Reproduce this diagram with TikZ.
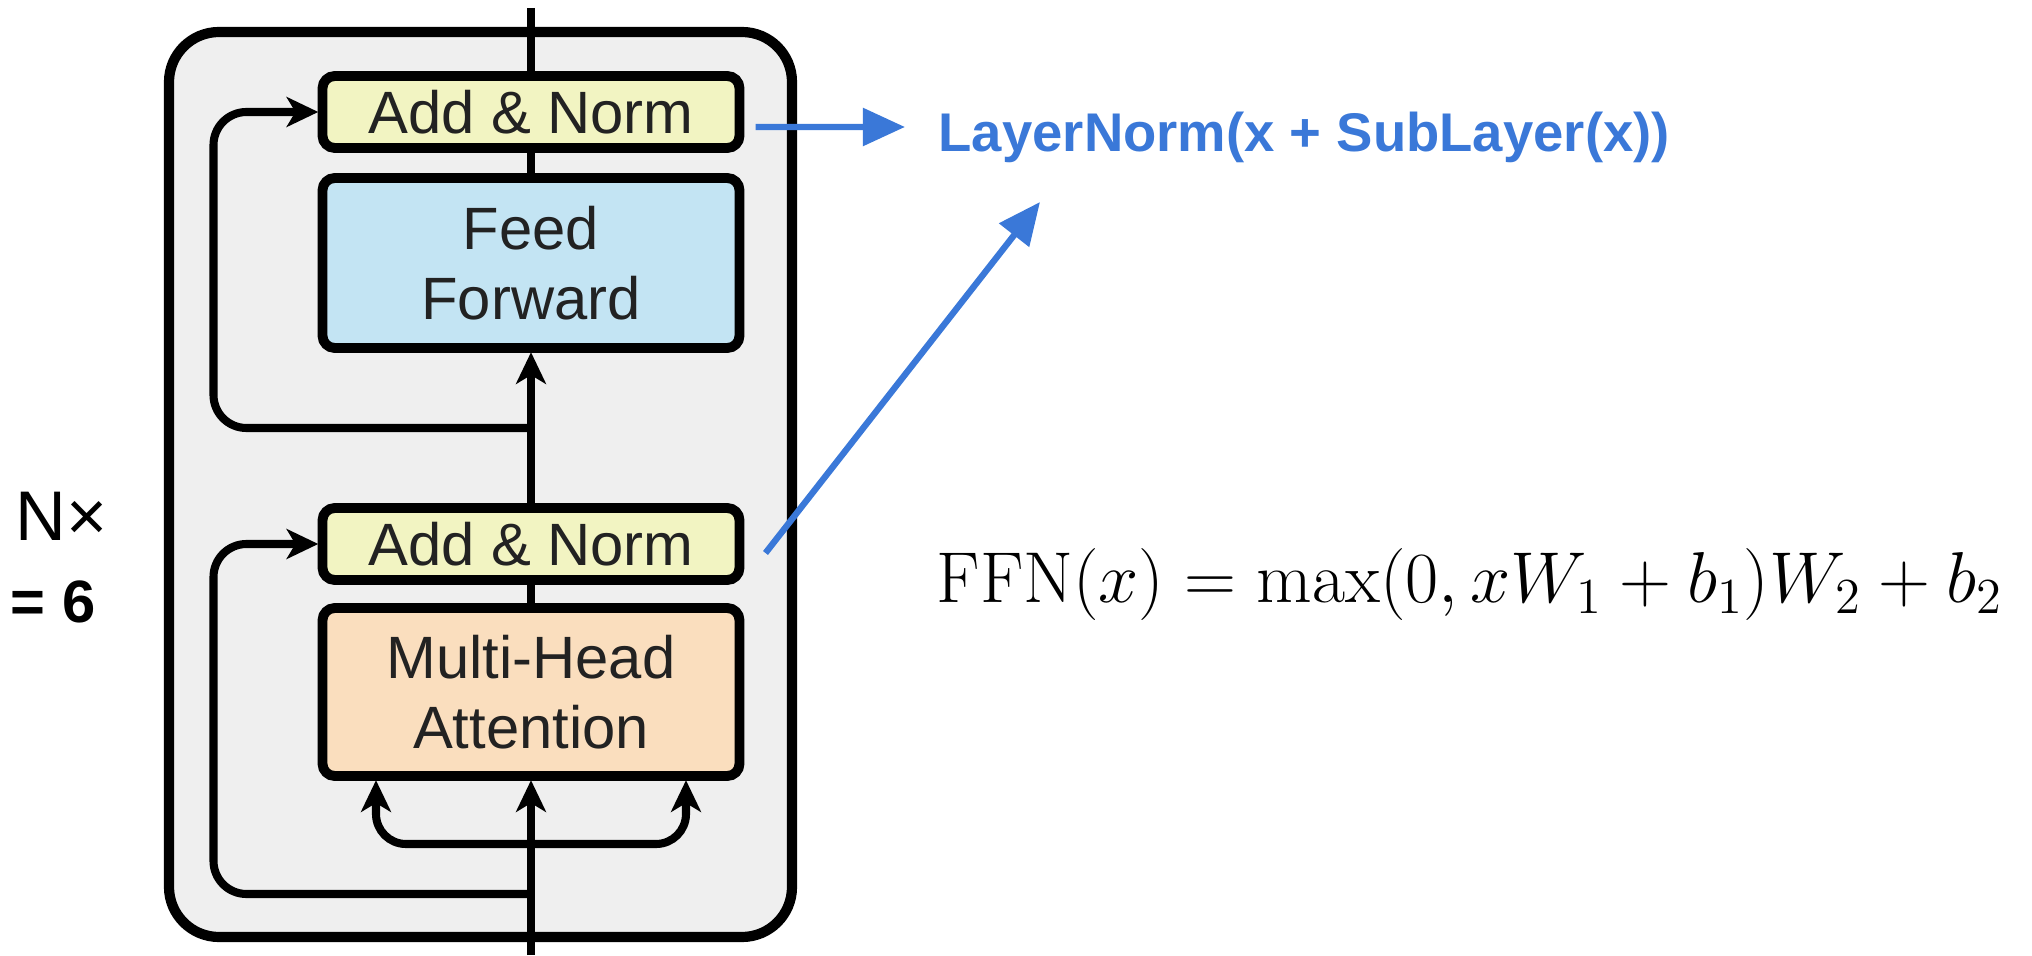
\RequirePackage{fix-cm}
\documentclass[tikz,border=0pt]{standalone}
\usepackage{amsmath}
\usepackage{fontspec}
\usepackage{tikz}
\usetikzlibrary{arrows.meta, positioning, calc}
\newfontfamily\helv{Liberation Sans}
\definecolor{normfill}{RGB}{242,244,194}
\definecolor{fffill}{RGB}{195,228,243}
\definecolor{attnfill}{RGB}{250,222,190}
\definecolor{layerfill}{RGB}{239,239,239}
\definecolor{boxtext}{RGB}{34,34,34}
\definecolor{sublayerblue}{RGB}{58,120,216}

\begin{document}
\begin{tikzpicture}[
			>={Stealth[length=9pt, width=8.5pt, inset=2.5pt]},
			block/.style={draw, line width=2.8pt, rounded corners=3.5pt, outer sep=0pt, minimum width=4.17cm, align=center, text=boxtext, font=\helv\fontsize{17}{20}\selectfont},
			norm/.style={block, fill=normfill, minimum height=0.72cm},
			ff/.style={block, fill=fffill, minimum height=1.70cm},
			attn/.style={block, fill=attnfill, minimum height=1.68cm},
			layerbox/.style={draw, line width=2.9pt, rounded corners=0.5cm, fill=layerfill, minimum width=6.23cm, minimum height=9.05cm},
			flow/.style={line width=2.3pt, shorten >=1.2pt},
			resid/.style={flow, rounded corners=0.33cm},
			bluearr/.style={draw=sublayerblue, line width=1.8pt, -{Triangle[length=12pt, width=10.5pt]}}
			]
			\useasboundingbox (0,0) rectangle (20.32,9.55);
			
			% --- Blok warstwy enkodera ---
			\node[layerbox] (layer) at (4.805,4.705) {};
			\node[norm] (topnorm) at (5.31,8.43) {Add \& Norm};
			\node[ff, below=0.30cm of topnorm] (ffn) {Feed\\Forward};
			\node[norm, below=1.60cm of ffn] (lownorm) {Add \& Norm};
			\node[attn, below=0.28cm of lownorm] (mha) {Multi-Head\\Attention};
			
			% --- Punkty pomocnicze ---
			\coordinate (top) at (5.31,9.47);
			\coordinate (bottom) at (5.31,0);
			\coordinate (res1) at ($(lownorm.north)!0.5!(ffn.south)$);
			\coordinate (res2) at ([yshift=-1.18cm]mha.south);
			\coordinate (fork) at ([yshift=-0.68cm]mha.south);
			
			% --- Ścieżka główna ---
			\draw[flow] (top) -- (topnorm.north);
			\draw[flow] (topnorm.south) -- (ffn.north);
			\draw[flow] (lownorm.south) -- (mha.north);
			\draw[flow, ->] (lownorm.north) -- (ffn.south);
			\draw[flow, ->] (bottom) -- (mha.south);
			
			% --- Połączenia resztkowe i wejścia Q, K, V ---
			\draw[resid, ->] (res1) -| ([xshift=-1.09cm]topnorm.west) -- (topnorm.west);
			\draw[resid, ->] (res2) -| ([xshift=-1.09cm]lownorm.west) -- (lownorm.west);
			\draw[resid, rounded corners=0.3cm, ->] (fork) -| ([xshift=-1.55cm]mha.south);
			\draw[resid, rounded corners=0.3cm, ->] (fork) -| ([xshift=1.55cm]mha.south);
			
			% --- Opisy ---
			\node[anchor=base west, inner sep=0pt, font=\helv\fontsize{20}{24}\selectfont] (nx) at (0.15,4.15) {N×};
			\node[anchor=base west, inner sep=0pt, font=\helv\bfseries\fontsize{17}{20}\selectfont] (nsix) at (0.10,3.32) {= 6};
			\node[anchor=base west, inner sep=0pt, text=sublayerblue, font=\helv\bfseries\fontsize{15.5}{18}\selectfont] (lnormtxt) at (9.38,8.03) {LayerNorm(x + SubLayer(x))};
			\node[anchor=base west, inner sep=0pt, font=\fontsize{20.5}{24}\selectfont] (ffnformula) at (9.36,3.52) {$\mathrm{FFN}(x)=\max(0,xW_1+b_1)W_2+b_2$};
			
			% --- Strzałki niebieskie ---
			\coordinate (sub) at (10.40,7.53);
			\draw[bluearr] ([shift={(0.16,-0.15)}]topnorm.east) -- ([xshift=-0.33cm, yshift=0.25cm]lnormtxt.base west);
			\draw[bluearr] ([shift={(0.26,-0.09)}]lownorm.east) -- (sub);
			
		\end{tikzpicture}
\end{document}
